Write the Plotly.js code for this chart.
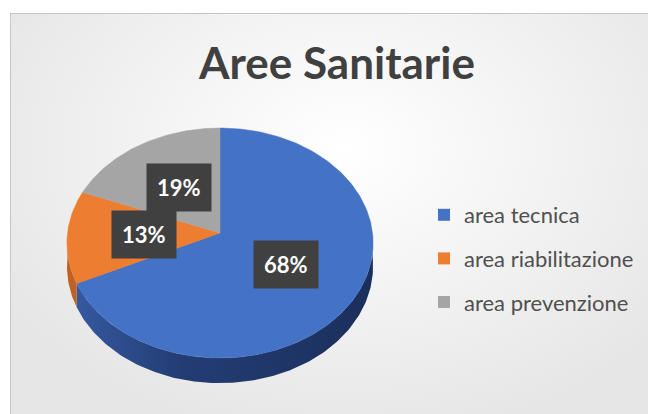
<!DOCTYPE html>
<html><head><meta charset="utf-8">
<script src="https://cdn.plot.ly/plotly-3.0.1.min.js"></script>
<style>
html,body{margin:0;padding:0;background:#fff;width:648px;height:414px;overflow:hidden}
#frame{position:absolute;left:10px;top:13px;width:670px;height:420px;border:1px solid #c6c6c6;
background:radial-gradient(ellipse 60% 70% at 50% 32%, #ffffff 0%, #f4f4f4 45%, #e6e6e6 100%);}
#chart{position:absolute;left:0;top:0;width:648px;height:414px}
</style></head><body><div id="frame"></div><div id="chart"></div>
<script>
// ---- data ----
const categories = ['area tecnica', 'area riabilitazione', 'area prevenzione'];
const values = [68, 13, 19];
const topColors = ['#4472C4', '#ED7D31', '#A5A5A5'];
const sideColors = ['#26417a', '#bf6224', '#7c7c7c'];

// ---- geometry of the tilted pie (layout constants, in axis units = px) ----
const G = {cx: 220, cy: 233, A: 152.5, B: 114.1, p: 0.087, depth: 23};
function proj(theta, r, dz) {
  const t = theta * Math.PI / 180;
  const u = r * Math.sin(t), v = r * Math.cos(t);
  const k = 1 / (1 + G.p * v);
  return [G.cx + G.A * u * k, G.cy - G.B * v * k + (dz || 0) * k];
}
function arc(a1, a2, r, dz) {
  const pts = [];
  const n = Math.max(2, Math.ceil(Math.abs(a2 - a1)));
  for (let i = 0; i <= n; i++) pts.push(proj(a1 + (a2 - a1) * i / n, r, dz));
  return pts;
}

const total = values.reduce((a, b) => a + b, 0);
const traces = [];
const annotations = [];
let start = 0;
const sides = [], tops = [];
values.forEach((v, i) => {
  const a1 = start, a2 = start + v / total * 360;
  start = a2;
  // side (front half only: 90..270 deg)
  const s1 = Math.max(a1, 90), s2 = Math.min(a2, 270);
  if (s2 > s1) {
    const topEdge = arc(s1, s2, 1, 0);
    const botEdge = arc(s1, s2, 1, G.depth).reverse();
    const pts = topEdge.concat(botEdge);
    pts.push(topEdge[0]);
    const tr = {
      type: 'scatter', mode: 'lines', x: pts.map(p => p[0]), y: pts.map(p => p[1]),
      fill: 'toself', fillcolor: sideColors[i], line: {width: 0, color: sideColors[i]},
      hoverinfo: 'skip', showlegend: false
    };
    if (i === 0) tr.fillgradient = {type: 'horizontal', colorscale: [[0, '#3558a0'], [0.35, '#233d74'], [1, '#1b2f5c']]};
    sides.push(tr);
  }
  const c = proj(0, 0, 0);
  const pts = [c].concat(arc(a1, a2, 1, 0));
  pts.push(c);
  tops.push({
    type: 'scatter', mode: 'lines', x: pts.map(p => p[0]), y: pts.map(p => p[1]),
    fill: 'toself', fillcolor: topColors[i], line: {width: 0.5, color: topColors[i]},
    hoverinfo: 'skip', showlegend: false
  });
  const mid = (a1 + a2) / 2;
  const lp = proj(mid, 0.5, 0);
  annotations.push({
    x: lp[0], y: lp[1], xref: 'x', yref: 'y', showarrow: false,
    text: Math.round(v / total * 100) + '%',
    font: {family: 'Lato, Open Sans, sans-serif', size: 22, weight: 'bold', color: '#ffffff'},
    bgcolor: '#404040', borderpad: 10
  });
});
traces.push(...sides, ...tops);
categories.forEach((name, i) => {
  traces.push({
    type: 'scatter', mode: 'markers', x: [null], y: [null], name: name,
    legendgroup: 'g' + i,
    marker: {symbol: 'square', size: 12, color: topColors[i]}, hoverinfo: 'skip'
  });
});

const layout = {
  width: 648, height: 414, autosize: false,
  margin: {l: 0, r: 0, t: 0, b: 0},
  paper_bgcolor: 'rgba(0,0,0,0)', plot_bgcolor: 'rgba(0,0,0,0)',
  title: {text: 'Aree Sanitarie', x: 337 / 648, xanchor: 'center', xref: 'paper',
          y: 1 - 64 / 414, yref: 'container', yanchor: 'middle',
          font: {family: 'Lato, Open Sans, sans-serif', size: 44, weight: 'bold', color: '#404040'}},
  xaxis: {range: [0, 648], visible: false, fixedrange: true},
  yaxis: {range: [414, 0], visible: false, fixedrange: true},
  showlegend: true,
  legend: {x: 424 / 648, xanchor: 'left', y: 1 - 194 / 414, yanchor: 'top',
           font: {family: 'Lato, Open Sans, sans-serif', size: 22, color: '#505050'},
           tracegroupgap: 12, bgcolor: 'rgba(0,0,0,0)'},
  annotations: annotations
};
Plotly.newPlot('chart', traces, layout, {staticPlot: true, displayModeBar: false});
</script></body></html>
